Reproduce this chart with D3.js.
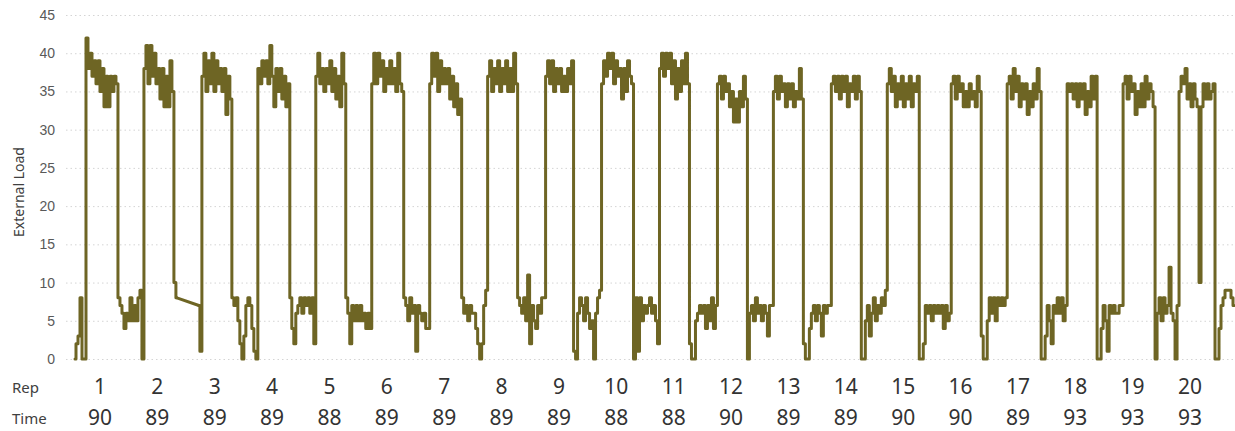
<!DOCTYPE html>
<html>
<head>
<meta charset="utf-8">
<script src="https://cdn.jsdelivr.net/npm/d3@7"></script>
<style>
  body { margin: 0; background: #fff; }
  svg { display: block; font-family: "Segoe UI", "Noto Sans", "Open Sans", sans-serif; }
  .grid line { stroke: #d4d4d4; stroke-dasharray: 1.5, 3; }
  .grid text { fill: #595959; font-size: 14px; }
</style>
</head>
<body>
<script>
// load trace, one sample every ~2px; null = missing samples (line joins across)
var lead  = [0, 2, 3, 8, 0, 0];
var rep1  = [42, 38, 40, 37, 39, 36, 39, 35, 38, 33, 37, 33, 37, 35, 37, 36, 8, 7, 6, 4, 6, 5, 8, 5, 7, 5, 8, 9, 0];
var rep2  = [38, 41, 36, 41, 37, 40, 36, 38, 34, 38, 33, 37, 33, 39, 35, 10, 8, null, null, null, null, null, null, null, null, null, null, 7, 1];
var rep3  = [37, 40, 35, 39, 36, 40, 35, 39, 36, 38, 35, 38, 32, 37, 34, 8, 7, 8, 5, 2, 0, 3, 7, 8, 7, 4, 1, 0];
var rep4  = [38, 36, 39, 37, 39, 36, 41, 37, 33, 38, 35, 38, 34, 37, 33, 36, 8, 4, 2, 6, 7, 8, 6, 8, 7, 8, 6, 8, 2];
var rep5  = [37, 40, 36, 38, 35, 38, 36, 39, 35, 38, 34, 37, 33, 40, 36, 8, 6, 2, 7, 5, 7, 5, 7, 5, 6, 4, 6, 4];
var rep6  = [36, 40, 36, 40, 37, 39, 35, 38, 36, 39, 36, 38, 35, 40, 36, 35, 8, 7, 5, 8, 6, 7, 1, 7, 6, 5, 6, 4, 4];
var rep7  = [36, 40, 37, 40, 35, 39, 36, 38, 36, 38, 34, 37, 33, 36, 32, 34, 8, 6, 7, 5, 7, 6, 6, 4, 2, 0, 2, 7, 9];
var rep8  = [37, 39, 35, 38, 36, 39, 35, 38, 36, 39, 35, 38, 35, 40, 36, 8, 7, 6, 8, 5, 11, 2, 7, 5, 4, 7, 6, 8, 8];
var rep9  = [37, 39, 36, 39, 35, 38, 36, 38, 35, 37, 35, 38, 36, 39, 1, 0, 6, 8, 7, 5, 8, 6, 4, 5, 0, 6, 8, 9];
var rep10 = [36, 39, 37, 40, 38, 40, 36, 39, 37, 38, 34, 38, 35, 39, 37, 36, 0, 8, 1, 8, 5, 7, 6, 7, 8, 6, 7, 5, 2];
var rep11 = [38, 40, 37, 40, 38, 40, 36, 39, 34, 38, 35, 39, 36, 40, 36, 2, 0, 0, 5, 6, 7, 6, 7, 4, 7, 5, 8, 4, 7];
var rep12 = [36, 37, 34, 37, 35, 36, 33, 35, 31, 34, 31, 35, 33, 37, 34, 0, 6, 7, 5, 8, 6, 7, 5, 7, 6, 3, 7, 7];
var rep13 = [35, 37, 34, 37, 35, 36, 33, 36, 34, 36, 33, 35, 34, 38, 34, 2, 0, 0, 4, 6, 7, 5, 7, 6, 3, 7, 6, 7, 7];
var rep14 = [36, 37, 35, 37, 34, 37, 35, 37, 33, 36, 35, 37, 34, 37, 35, 0, 0, 5, 7, 3, 6, 8, 5, 7, 6, 8, 7, 9];
var rep15 = [36, 38, 35, 37, 33, 36, 34, 37, 33, 36, 34, 37, 33, 36, 35, 37, 0, 0, 2, 7, 6, 7, 5, 7, 6, 7, 6, 7, 4, 7, 5, 6];
var rep16 = [36, 37, 34, 37, 35, 36, 33, 35, 33, 36, 34, 35, 33, 37, 35, 3, 0, 0, 5, 8, 6, 8, 5, 8, 7, 8, 7, 8];
var rep17 = [36, 37, 34, 38, 35, 37, 33, 36, 34, 36, 32, 35, 33, 36, 34, 38, 35, 0, 0, 3, 7, 5, 2, 7, 6, 8, 6, 8, 5, 7];
var rep18 = [36, 35, 36, 34, 36, 33, 36, 34, 36, 32, 35, 33, 37, 34, 37, 0, 0, 4, 7, 5, 1, 7, 6, 7, 6, 6, 7, 7];
var rep19 = [36, 37, 34, 37, 35, 36, 32, 35, 33, 36, 33, 37, 34, 36, 35, 33, 0, 6, 8, 5, 8, 6, 7, 12, 6, 5, 0, 7];
var rep20 = [35, 37, 36, 38, 34, 36, 33, 36, 34, 33, 10, 33, 36, 34, 36, 34, 35, 36, 0, 0, 4, 7, 8, 9, 9, 9, 8, 7];

var reps  = ['1', '2', '3', '4', '5', '6', '7', '8', '9', '10', '11', '12', '13', '14', '15', '16', '17', '18', '19', '20'];
var times = [90, 89, 89, 89, 88, 89, 89, 89, 89, 88, 88, 90, 89, 89, 90, 90, 89, 93, 93, 93];
var yTicks = [0, 5, 10, 15, 20, 25, 30, 35, 40, 45];

var load = lead.concat(rep1, rep2, rep3, rep4, rep5, rep6, rep7, rep8, rep9, rep10,
  rep11, rep12, rep13, rep14, rep15, rep16, rep17, rep18, rep19, rep20);

var width = 1235, height = 431;
var svg = d3.select(document.body).append('svg').attr('width', width).attr('height', height);

var plot = {left: 66, right: 1235, top: 15, bottom: 359};

var x = d3.scaleLinear().domain([0, load.length - 1]).range([75, 1234]),
  y = d3.scaleLinear().domain([0, 45]).range([plot.bottom, plot.top]);

svg.append('g')
  .attr('class', 'grid')
  .attr('transform', 'translate(' + plot.left + ',0)')
  .call(d3.axisLeft(y).tickValues(yTicks).tickSize(-(plot.right - plot.left)).tickPadding(11))
  .call(function (g) { g.select('.domain').remove(); })
  .selectAll('text').attr('font-family', null);

svg.append('text')
  .attr('transform', 'translate(24,' + ((plot.top + plot.bottom) / 2 + 5) + ') rotate(-90)')
  .attr('text-anchor', 'middle')
  .attr('fill', '#404040')
  .attr('font-size', 14)
  .text('External Load');

var pts = load.map(function (v, i) { return {i: i, v: v}; })
  .filter(function (d) { return d.v !== null; });

// plateaus/rests drawn stepwise like the dense sensor trace; gap stays a straight join
var line = d3.line()
  .x(function (d) { return x(d.i); })
  .y(function (d) { return y(d.v); })
  .curve(d3.curveStep);

var segs = [], cur = [];
pts.forEach(function (d, k) {
  if (k > 0 && d.i - pts[k - 1].i > 1) { segs.push(cur); cur = [pts[k - 1]]; segs.push([pts[k - 1], d]); cur = []; }
  cur.push(d);
});
segs.push(cur);

svg.selectAll('.trace')
  .data(segs)
  .enter().append('path')
  .attr('class', 'trace')
  .attr('fill', 'none')
  .attr('stroke', '#6e6524')
  .attr('stroke-width', 3)
  .attr('stroke-linejoin', 'round')
  .attr('stroke-linecap', 'round')
  .attr('d', function (d) { return d.length === 2 && d[1].i - d[0].i > 1 ? d3.line().x(function (p) { return x(p.i); }).y(function (p) { return y(p.v); })(d) : line(d); });

// rep / time rows
var xr = d3.scalePoint().domain(reps).range([100, 1190]);

svg.append('text').attr('x', 12).attr('y', 393).attr('fill', '#404040').attr('font-size', 15).text('Rep');
svg.append('text').attr('x', 12).attr('y', 424).attr('fill', '#404040').attr('font-size', 15).text('Time');

svg.selectAll('.rep')
  .data(reps)
  .enter().append('text')
  .attr('class', 'rep')
  .attr('x', function (d) { return xr(d); })
  .attr('y', 394)
  .attr('text-anchor', 'middle')
  .attr('fill', '#333')
  .attr('font-size', 21)
  .text(function (d) { return d; });

svg.selectAll('.time')
  .data(times)
  .enter().append('text')
  .attr('class', 'time')
  .attr('x', function (d, i) { return xr(reps[i]); })
  .attr('y', 425)
  .attr('text-anchor', 'middle')
  .attr('fill', '#333')
  .attr('font-size', 21)
  .text(function (d) { return d; });
</script>
</body>
</html>
